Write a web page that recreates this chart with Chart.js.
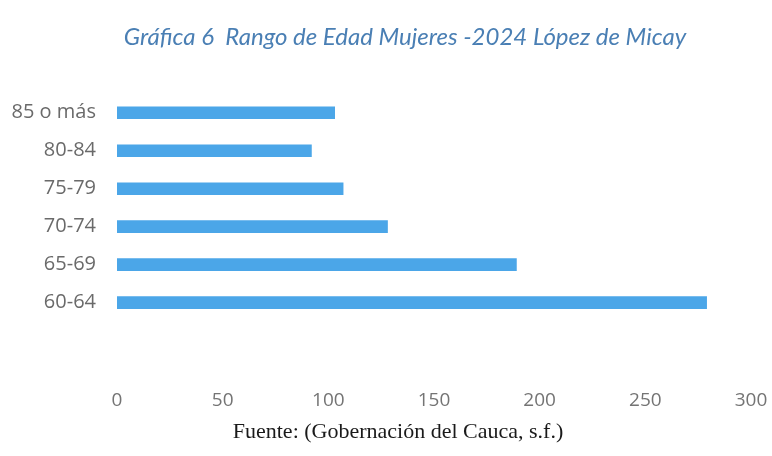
<!DOCTYPE html>
<html>
<head>
<meta charset="utf-8">
<script src="https://cdn.jsdelivr.net/npm/chart.js@4.4.1/dist/chart.umd.min.js"></script>
<style>
  html, body { margin: 0; padding: 0; background: #fff; }
  #wrap { width: 772px; height: 456px; }
</style>
</head>
<body>
<div id="wrap"><canvas id="grafica"></canvas></div>
<script>
// rangos de edad (de arriba hacia abajo)
const rangos = ['85 o más', '80-84', '75-79', '70-74', '65-69', '60-64'];
const mujeres = [103, 92, 107, 128, 189, 279];
const ticksX = [0, 50, 100, 150, 200, 250, 300];

// el titulo y la fuente no van centrados sobre todo el lienzo
const correrTextos = {
    id: 'correrTextos',
    afterLayout: chart => {
        const titulo = chart.titleBlock;
        if (!titulo) return;
        titulo.left = 59;
        titulo.width = titulo.right - titulo.left;
        chart.boxes.forEach(box => {
            if (box !== titulo && box.constructor === titulo.constructor) {
                box.left = 45;
                box.width = box.right - box.left;
            }
        });
    }
};

const grafica = document.getElementById('grafica');
new Chart(grafica, {
    type: 'bar',
    data: {
        labels: rangos,
        datasets: [{
            label: 'Mujeres 2024',
            data: mujeres,
            backgroundColor: '#4ba6e8',
            barThickness: 12
        }]
    },
    options: {
        indexAxis: 'y',
        responsive: true,
        maintainAspectRatio: false,
        animation: false,
        layout: {
            padding: { top: 23, bottom: 11, left: 0, right: 21 }
        },
        plugins: {
            legend: { display: false },
            tooltip: { enabled: false },
            title: {
                display: true,
                text: 'Gráfica 6  Rango de Edad Mujeres -2024 López de Micay',
                color: '#4a7fb4',
                font: { family: 'Lato', size: 24, style: 'italic', weight: 'normal' },
                padding: { top: 0, bottom: 42 }
            },
            subtitle: {
                display: true,
                position: 'bottom',
                text: 'Fuente: (Gobernación del Cauca, s.f.)',
                color: '#1a1a1a',
                font: { family: 'Liberation Serif', size: 22, weight: 'normal' },
                padding: 0
            }
        },
        scales: {
            x: {
                min: 0,
                max: 300,
                afterBuildTicks: scale => {
                    scale.ticks = ticksX.map(v => ({ value: v }));
                },
                afterFit: scale => {
                    scale.height = 97;
                    scale.paddingLeft = 0;
                    scale.paddingRight = 0;
                },
                grid: { display: false, drawTicks: false },
                border: { display: false },
                ticks: {
                    color: '#747474',
                    padding: 68,
                    font: { family: 'Open Sans', size: 19 }
                }
            },
            y: {
                afterFit: scale => { scale.width = 117; },
                grid: { display: false, drawTicks: false },
                border: { display: false },
                ticks: {
                    color: '#6a6a6a',
                    padding: 21,
                    font: { family: 'Open Sans', size: 20 }
                }
            }
        }
    },
    plugins: [correrTextos]
});
</script>
</body>
</html>
